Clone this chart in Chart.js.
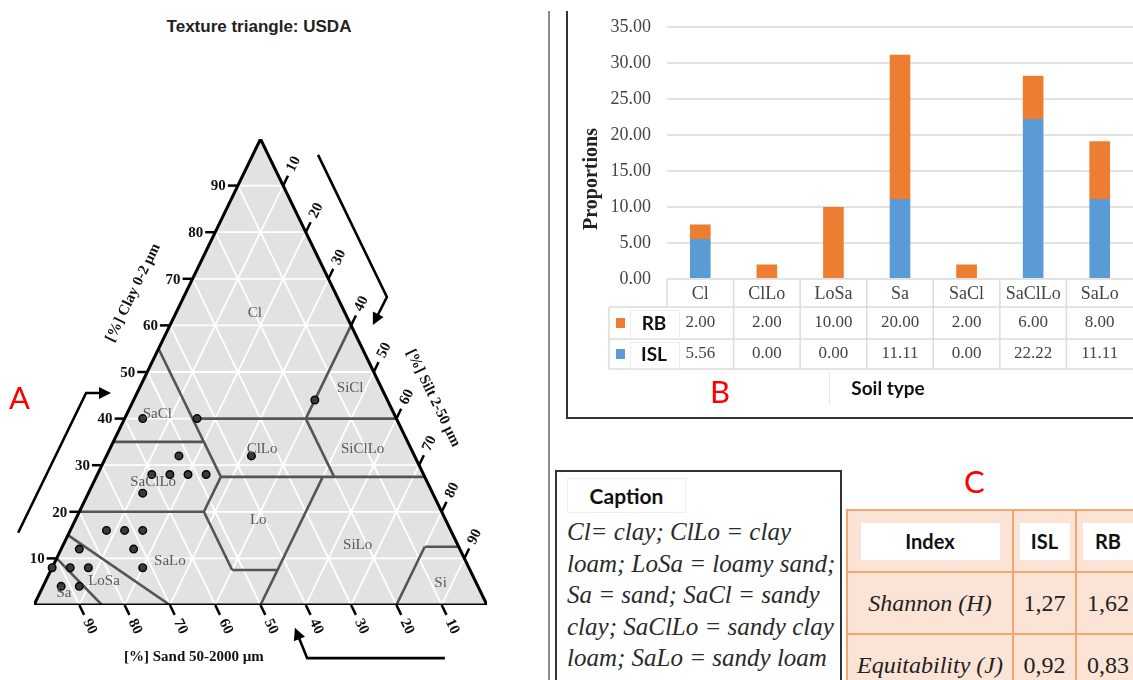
<!DOCTYPE html>
<html>
<head>
<meta charset="utf-8">
<script src="https://cdn.jsdelivr.net/npm/chart.js@4.4.1/dist/chart.umd.min.js"></script>
<style>
  html, body { margin: 0; padding: 0; background: #fff; }
  body { width: 1133px; height: 680px; position: relative; overflow: hidden; }
  #title { position: absolute; left: 0; width: 518px; top: 17px; text-align: center;
           font: bold 17px/20px "Liberation Sans Narrow", "Liberation Sans", sans-serif; color: #222; }
  .tag { position: absolute; color: #f00; font: 31px Lato, "Open Sans", sans-serif; }
  #sep { position: absolute; left: 548px; top: 11px; width: 2px; height: 680px; background: #8a8a8a; }
  #boxB { position: absolute; left: 566px; top: 11px; width: 580px; height: 406px;
          border-left: 2px solid #333; border-bottom: 2px solid #333; }
  #tri { position: absolute; left: 0; top: 0; }
  #bars { position: absolute; left: 568px; top: 0; }
  #caption { position: absolute; left: 555px; top: 470px; width: 287px; height: 260px; box-sizing: border-box;
             border: 2px solid #333; }
  #capHead { position: absolute; left: 10px; top: 6px; width: 119px; height: 35px; box-sizing: border-box;
             border: 1px solid #eee; text-align: center;
             font: bold 21px/33px Lato, "Open Sans", sans-serif; color: #111; }
  #capText { position: absolute; left: 10px; top: 44px; white-space: nowrap;
             font: italic 25px/31.5px "Liberation Serif", serif; color: #2a2a2a; }
  #tblC { position: absolute; left: 846px; top: 509px; display: grid; grid-template-columns: 164px 61px 62px;
          grid-template-rows: 60px 60px 60px; gap: 2px; padding: 2px; background: #f2a672; }
  #tblC div.cell { background: #fbe4d6; display: flex; align-items: center; justify-content: center;
                   font: 24px "Liberation Serif", serif; color: #222; white-space: nowrap; }
  #tblC div.cell.it { font-style: italic; }
  #tblC span.hd { background: #fff; height: 37px; text-align: center;
                  font: bold 20px/37px Lato, "Open Sans", sans-serif; color: #111; }
</style>
</head>
<body>
<div id="title">Texture triangle: USDA</div>
<canvas id="tri" width="520" height="680"></canvas>
<div id="sep"></div>
<div id="boxB"></div>
<canvas id="bars" width="565" height="417"></canvas>
<div class="tag" style="left:9px; top:378px;">A</div>
<div class="tag" style="left:710px; top:372px;">B</div>
<div class="tag" style="left:964px; top:462px;">C</div>
<div id="caption">
  <div id="capHead">Caption</div>
  <div id="capText">Cl= clay; ClLo = clay<br>loam; LoSa = loamy sand;<br>Sa = sand; SaCl = sandy<br>clay; SaClLo = sandy clay<br>loam; SaLo = sandy loam</div>
</div>
<div id="tblC"></div>

<script>
// ---------- A: texture triangle ----------
const gridSteps = [10, 20, 30, 40, 50, 60, 70, 80, 90];

// samples, % clay and % silt (sand is the rest)
const sampleClay = [40, 40, 32, 28, 28, 28, 28, 24, 16, 16, 16, 12, 8, 12, 8, 8, 8, 4, 4, 44, 32];
const sampleSilt = [4, 16, 16, 12, 16, 20, 24, 12, 8, 12, 16, 16, 20, 4, 0, 4, 8, 4, 8, 40, 32];

// USDA class boundaries, [clay, silt] ends
const boundaryFrom = [[0, 15], [0, 30], [20, 0], [20, 27.5], [7.5, 40], [0, 50], [27.5, 27.5], [27.5, 27.5],
                      [35, 0], [55, 0], [40, 15], [40, 40], [40, 40], [0, 80], [12.5, 80]];
const boundaryTo   = [[10, 0], [15, 0], [20, 27.5], [7.5, 40], [7.5, 50], [27.5, 50], [27.5, 72.5], [20, 27.5],
                      [35, 20], [27.5, 27.5], [40, 60], [60, 40], [27.5, 52.5], [12.5, 80], [12.5, 87.5]];

const classNames = ['Cl', 'SiCl', 'SaCl', 'ClLo', 'SiClLo', 'SaClLo', 'Lo', 'SiLo', 'SaLo', 'LoSa', 'Sa', 'Si'];
const classClay  = [62.7, 46.6, 41, 33.5, 33.5, 26.4, 18.2, 12.9, 9.4, 5.1, 2.6, 4.7];
const classSilt  = [17.4, 46.5, 6.7, 33.6, 55.8, 13.1, 40.4, 65, 25.3, 12.9, 5.3, 87.4];

// ternary -> plain x/y (percent units)
const tern = (clay, silt) => ({ x: silt + clay / 2, y: clay });

function segData(segs) {
  const out = [];
  segs.forEach(([p, q]) => out.push(p, q, { x: null, y: null }));
  return out;
}

const gridSegs = [];
gridSteps.forEach(v => {
  gridSegs.push([tern(v, 0), tern(v, 100 - v)]);
  gridSegs.push([tern(0, v), tern(100 - v, v)]);
  gridSegs.push([tern(0, 100 - v), tern(100 - v, 0)]);
});
const boundarySegs = boundaryFrom.map((p, i) => [tern(p[0], p[1]), tern(boundaryTo[i][0], boundaryTo[i][1])]);

// arrows and axis titles, in x/y percent units
const arrowPaths = [
  [[-3.5, 15.5], [11.5, 45.5], [17, 45.5]],
  [[62.7, 96.6], [77.9, 66.1], [74.8, 60.1]],
  [[90.7, -11.4], [60.3, -11.4], [57.6, -4.9]]
];
const axisTitles = [
  { text: '[%] Clay 0-2 µm', x: 21.9, y: 67, dir: 'up' },
  { text: '[%] Silt 2-50 µm', x: 88.1, y: 44.4, dir: 'down' },
  { text: '[%] Sand 50-2000 µm', x: 35.3, y: -11.2, dir: 'flat' }
];

const ternDecor = {
  id: 'ternDecor',
  afterDatasetsDraw(chart) {
    const { ctx, scales: { x, y } } = chart;
    const pt = (clay, silt) => { const p = tern(clay, silt); return [x.getPixelForValue(p.x), y.getPixelForValue(p.y)]; };
    const xy = (a, b) => [x.getPixelForValue(a), y.getPixelForValue(b)];
    const [lx, ly] = pt(0, 0), [ax, ay] = pt(100, 0), [rx, ry] = pt(0, 100);
    let L = Math.hypot(ax - lx, ay - ly);
    const ux = (ax - lx) / L, uy = (ay - ly) / L;        // up-right
    L = Math.hypot(rx - ax, ry - ay);
    const vx = (rx - ax) / L, vy = (ry - ay) / L;        // down-right
    const angUp = Math.atan2(uy, ux), angDown = Math.atan2(vy, vx);

    ctx.save();
    // class names
    ctx.font = '15px "Liberation Serif", serif';
    ctx.fillStyle = '#5a5a5a';
    ctx.textAlign = 'center';
    ctx.textBaseline = 'middle';
    classNames.forEach((n, i) => { const [a, b] = pt(classClay[i], classSilt[i]); ctx.fillText(n, a, b); });

    // ticks + labels
    ctx.strokeStyle = '#000';
    ctx.lineWidth = 2.5;
    ctx.fillStyle = '#111';
    ctx.font = 'bold 15px "Liberation Serif", serif';
    gridSteps.forEach(v => {
      let [a, b] = pt(v, 0);
      ctx.beginPath(); ctx.moveTo(a, b); ctx.lineTo(a - 10, b); ctx.stroke();
      ctx.textAlign = 'right';
      ctx.fillText(String(v), a - 12, b + 1);

      ctx.textAlign = 'center';
      [a, b] = pt(100 - v, v);
      ctx.beginPath(); ctx.moveTo(a, b); ctx.lineTo(a + ux * 11, b + uy * 11); ctx.stroke();
      ctx.save(); ctx.translate(a + ux * 24, b + uy * 24); ctx.rotate(angUp); ctx.fillText(String(v), 0, 0); ctx.restore();

      [a, b] = pt(0, 100 - v);
      ctx.beginPath(); ctx.moveTo(a, b); ctx.lineTo(a + vx * 11, b + vy * 11); ctx.stroke();
      ctx.save(); ctx.translate(a + vx * 24, b + vy * 24); ctx.rotate(angDown); ctx.fillText(String(v), 0, 0); ctx.restore();
    });

    // axis titles
    ctx.font = 'bold 15px "Liberation Serif", serif';
    axisTitles.forEach(t => {
      const [a, b] = xy(t.x, t.y);
      ctx.save(); ctx.translate(a, b);
      ctx.rotate(t.dir === 'up' ? angUp : t.dir === 'down' ? angDown : 0);
      ctx.fillText(t.text, 0, 0);
      ctx.restore();
    });

    // arrows
    ctx.lineWidth = 2.6;
    ctx.fillStyle = '#000';
    arrowPaths.forEach(path => {
      const p = path.map(q => xy(q[0], q[1]));
      const [ex, ey] = p[p.length - 1], [px, py] = p[p.length - 2];
      const d = Math.hypot(ex - px, ey - py), dx = (ex - px) / d, dy = (ey - py) / d;
      ctx.beginPath();
      ctx.moveTo(p[0][0], p[0][1]);
      for (let i = 1; i < p.length - 1; i++) ctx.lineTo(p[i][0], p[i][1]);
      ctx.lineTo(ex - dx * 8, ey - dy * 8);
      ctx.stroke();
      ctx.beginPath();
      ctx.moveTo(ex, ey);
      ctx.lineTo(ex - dx * 12 - dy * 6, ey - dy * 12 + dx * 6);
      ctx.lineTo(ex - dx * 12 + dy * 6, ey - dy * 12 - dx * 6);
      ctx.closePath();
      ctx.fill();
    });
    ctx.restore();
  }
};

new Chart(document.getElementById('tri'), {
  type: 'line',
  data: {
    datasets: [
      { label: 'area', data: [tern(0, 0), tern(100, 0), tern(0, 100)], fill: 'origin',
        backgroundColor: '#e2e2e2', borderWidth: 0, borderColor: 'rgba(0,0,0,0)', pointRadius: 0, order: 5 },
      { label: 'grid', data: segData(gridSegs), borderColor: '#fff', borderWidth: 1.8, pointRadius: 0, fill: false, order: 4 },
      { label: 'classes', data: segData(boundarySegs), borderColor: '#555', borderWidth: 2.6, pointRadius: 0, fill: false, order: 3 },
      { label: 'outline', data: [tern(0, 0), tern(100, 0), tern(0, 100), tern(0, 0)], borderColor: '#000',
        borderWidth: 3, pointRadius: 0, fill: false, order: 2 },
      { label: 'samples', data: sampleClay.map((c, i) => tern(c, sampleSilt[i])), showLine: false,
        pointRadius: 3.8, pointBackgroundColor: '#3a3a3a', pointBorderColor: '#000', pointBorderWidth: 1.4, order: 1 }
    ]
  },
  options: {
    responsive: false,
    animation: false,
    events: [],
    layout: { padding: { left: 34, right: 33, top: 139, bottom: 75 } },
    scales: {
      x: { type: 'linear', min: 0, max: 100, display: false },
      y: { type: 'linear', min: 0, max: 100, display: false }
    },
    plugins: { legend: { display: false }, tooltip: { enabled: false } }
  },
  plugins: [ternDecor]
});

// ---------- B: stacked bars with data table ----------
const soilTypes = ['Cl', 'ClLo', 'LoSa', 'Sa', 'SaCl', 'SaClLo', 'SaLo'];
const rbValues  = [2.00, 2.00, 10.00, 20.00, 2.00, 6.00, 8.00];
const islValues = [5.56, 0.00, 0.00, 11.11, 0.00, 22.22, 11.11];
const seriesNames = ['RB', 'ISL'];
const seriesColors = { RB: '#ed7d31', ISL: '#5b9bd5' };

const dataTable = {
  id: 'dataTable',
  afterDraw(chart) {
    const { ctx, chartArea: ca, scales: { x } } = chart;
    const half = (x.getPixelForValue(1) - x.getPixelForValue(0)) / 2;
    const top = ca.bottom, r1 = top + 28, r2 = r1 + 32, r3 = r2 + 30;
    const left = 41;
    ctx.save();
    ctx.strokeStyle = '#dcdcdc';
    ctx.lineWidth = 1.5;
    ctx.beginPath();
    [r1, r2, r3].forEach(yy => { ctx.moveTo(left, yy); ctx.lineTo(ca.right, yy); });
    ctx.moveTo(left, r1); ctx.lineTo(left, r3);
    soilTypes.forEach((_, i) => {
      const xx = x.getPixelForValue(i) - half;
      ctx.moveTo(xx, top); ctx.lineTo(xx, i === 0 ? r1 : r3);
    });
    ctx.stroke();

    ctx.fillStyle = '#444';
    ctx.textAlign = 'center';
    ctx.textBaseline = 'middle';
    ctx.font = '18px "Liberation Serif", serif';
    soilTypes.forEach((s, i) => ctx.fillText(s, x.getPixelForValue(i), (top + r1) / 2 + 1));
    ctx.font = '17px "Liberation Serif", serif';
    rbValues.forEach((v, i) => ctx.fillText(v.toFixed(2), x.getPixelForValue(i), (r1 + r2) / 2));
    islValues.forEach((v, i) => ctx.fillText(v.toFixed(2), x.getPixelForValue(i), (r2 + r3) / 2));

    // legend keys in the table
    [[r1, r2], [r2, r3]].forEach(([a, b], k) => {
      const name = seriesNames[k];
      const mid = (a + b) / 2;
      ctx.fillStyle = seriesColors[name];
      ctx.fillRect(48, mid - 5, 9, 10);
      ctx.fillStyle = '#fff';
      ctx.fillRect(62, a + 3, 49, b - a - 3);
      ctx.strokeStyle = '#ececec';
      ctx.lineWidth = 1;
      ctx.strokeRect(62.5, a + 3.5, 49, b - a - 4);
      ctx.fillStyle = '#111';
      ctx.font = 'bold 19px Lato, "Open Sans", sans-serif';
      ctx.fillText(name, 86, mid + 1);
    });

    // axis titles
    ctx.fillStyle = '#222';
    ctx.font = 'bold 20px "Liberation Serif", serif';
    ctx.save(); ctx.translate(24, 179); ctx.rotate(-Math.PI / 2); ctx.fillText('Proportions', 0, 0); ctx.restore();
    ctx.fillStyle = '#fff';
    ctx.fillRect(261, 372, 121, 33);
    ctx.strokeStyle = '#e8e8e8';
    ctx.beginPath(); ctx.moveTo(261.5, 372); ctx.lineTo(261.5, 405); ctx.stroke();
    ctx.fillStyle = '#111';
    ctx.font = 'bold 19px Lato, "Open Sans", sans-serif';
    ctx.fillText('Soil type', 320, 389);
    ctx.restore();
  }
};

new Chart(document.getElementById('bars'), {
  type: 'bar',
  data: {
    labels: soilTypes,
    datasets: [
      { label: 'ISL', data: islValues, backgroundColor: seriesColors.ISL, stack: 's' },
      { label: 'RB', data: rbValues, backgroundColor: seriesColors.RB, stack: 's' }
    ]
  },
  options: {
    responsive: false,
    animation: false,
    events: [],
    categoryPercentage: 1,
    barPercentage: 0.31,
    layout: { padding: { top: 26, bottom: 138, left: 0, right: 0 } },
    scales: {
      x: { display: false, stacked: true },
      y: {
        stacked: true, min: 0, max: 35,
        ticks: { stepSize: 5, callback: v => v.toFixed(2), color: '#444', padding: 16,
                 font: { family: '"Liberation Serif", serif', size: 18 } },
        grid: { color: '#e2e2e2', lineWidth: 2, drawTicks: false },
        border: { display: false },
        afterFit(scale) { scale.width = 99; }
      }
    },
    plugins: { legend: { display: false }, tooltip: { enabled: false } }
  },
  plugins: [dataTable]
});

// ---------- C: diversity indices ----------
const indexNames = ['Shannon (H)', 'Equitability (J)'];
const islIndex = ['1,27', '0,92'];
const rbIndex = ['1,62', '0,83'];

const tbl = document.getElementById('tblC');
function cell(html, cls) {
  const d = document.createElement('div');
  d.className = 'cell' + (cls ? ' ' + cls : '');
  d.innerHTML = html;
  tbl.appendChild(d);
}
cell('<span class="hd" style="width:139px">Index</span>');
cell('<span class="hd" style="width:50px">ISL</span>');
cell('<span class="hd" style="width:50px">RB</span>');
indexNames.forEach((n, i) => {
  cell(n, 'it');
  cell(islIndex[i]);
  cell(rbIndex[i]);
});
</script>
</body>
</html>
